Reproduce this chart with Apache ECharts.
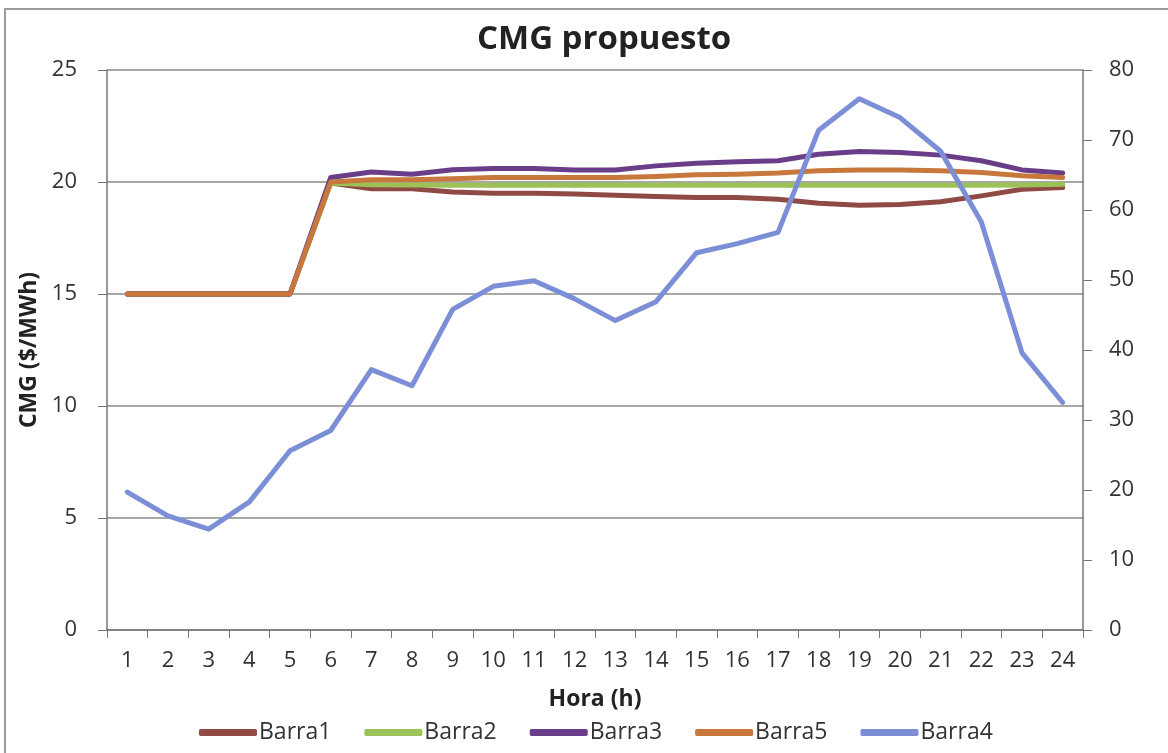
<!DOCTYPE html>
<html>
<head>
<meta charset="utf-8">
<script src="https://cdn.jsdelivr.net/npm/echarts@6/dist/echarts.min.js"></script>
<style>
html,body{margin:0;padding:0;background:#fff;}
#frame{position:absolute;left:4px;top:8px;width:1200px;height:760px;border-left:2px solid #9a9a9a;border-top:2px solid #9a9a9a;}
#chart{position:absolute;left:0;top:0;width:1168px;height:753px;}
</style>
</head>
<body>
<div id="frame"></div>
<div id="chart"></div>
<script>
const hours = ['1','2','3','4','5','6','7','8','9','10','11','12','13','14','15','16','17','18','19','20','21','22','23','24'];
const barra1 = [15,15,15,15,15,19.95,19.7,19.7,19.55,19.5,19.5,19.46,19.41,19.35,19.31,19.31,19.23,19.05,18.96,19.0,19.12,19.38,19.68,19.75];
const barra2 = [15,15,15,15,15,19.95,19.88,19.87,19.86,19.85,19.85,19.85,19.85,19.85,19.85,19.85,19.85,19.85,19.85,19.85,19.85,19.85,19.87,19.9];
const barra3 = [15,15,15,15,15,20.2,20.45,20.35,20.55,20.6,20.6,20.54,20.54,20.72,20.84,20.9,20.95,21.24,21.36,21.32,21.2,20.95,20.54,20.4];
const barra5 = [15,15,15,15,15,20.0,20.1,20.1,20.15,20.2,20.2,20.2,20.2,20.25,20.32,20.35,20.4,20.5,20.54,20.54,20.5,20.42,20.28,20.2];
const barra4 = [19.7,16.3,14.4,18.3,25.6,28.5,37.2,34.9,45.8,49.1,49.9,47.3,44.2,46.9,53.9,55.2,56.8,71.4,75.9,73.2,68.4,58.3,39.6,32.5];
const leftTicks = {min:0, max:25, interval:5};
const rightTicks = {min:0, max:80, interval:10};

const font = '"Open Sans", "Noto Sans", sans-serif';
const chart = echarts.init(document.getElementById('chart'), null, {renderer:'canvas'});
function ln(name, data, color, axis, z){
  return {name, type:'line', data, yAxisIndex:axis, symbol:'none', z:z,
    lineStyle:{color, width:5, cap:'round', join:'round'}, itemStyle:{color}};
}
chart.setOption({
  animation:false,
  backgroundColor:'transparent',
  title:{text:'CMG propuesto', left:472, top:18,
    textStyle:{fontFamily:font, fontSize:33, fontWeight:'bold', color:'#222'}},
  grid:{left:107, right:85, top:70, bottom:123, containLabel:false},
  legend:{bottom:4, left:194, itemWidth:58, itemHeight:7, itemGap:33, icon:'roundRect',
    data:['Barra1','Barra2','Barra3','Barra5','Barra4'],
    textStyle:{fontFamily:font, fontSize:23, color:'#333', padding:[0,0,0,-3]}},
  xAxis:{type:'category', data:hours, boundaryGap:true,
    name:'Hora (h)', nameLocation:'middle', nameGap:58,
    nameTextStyle:{fontFamily:font, fontSize:23, fontWeight:'bold', color:'#222'},
    axisLine:{lineStyle:{color:'#777', width:1.5}},
    axisTick:{show:true, inside:false, length:8, lineStyle:{color:'#777'}},
    axisLabel:{fontFamily:font, fontSize:22, color:'#333', margin:20}},
  yAxis:[
    {type:'value', min:leftTicks.min, max:leftTicks.max, interval:leftTicks.interval, position:'left',
      name:'CMG ($/MWh)', nameLocation:'middle', nameGap:62, nameRotate:90,
      nameTextStyle:{fontFamily:font, fontSize:23, fontWeight:'bold', color:'#222'},
      axisLine:{show:true, lineStyle:{color:'#777', width:1.5}},
      axisTick:{show:true, length:9, lineStyle:{color:'#777'}},
      axisLabel:{fontFamily:font, fontSize:22, color:'#333', margin:30}},
    {type:'value', min:rightTicks.min, max:rightTicks.max, interval:rightTicks.interval, position:'right',
      axisLine:{show:true, lineStyle:{color:'#777', width:1.5}},
      axisTick:{show:true, length:9, lineStyle:{color:'#777'}},
      axisLabel:{fontFamily:font, fontSize:22, color:'#333', margin:26},
      splitLine:{show:false}}
  ],
  series:[
    ln('Barra1', barra1, '#8f4a45', 0, 2),
    ln('Barra2', barra2, '#9cc157', 0, 3),
    ln('Barra3', barra3, '#6a3d88', 0, 4),
    ln('Barra5', barra5, '#c8773d', 0, 5),
    ln('Barra4', barra4, '#7b8ed6', 1, 6)
  ]
});
chart.setOption({yAxis:[{splitLine:{show:true, lineStyle:{color:'#8a8a8a', width:1.5}}},{}]});
</script>
</body>
</html>
